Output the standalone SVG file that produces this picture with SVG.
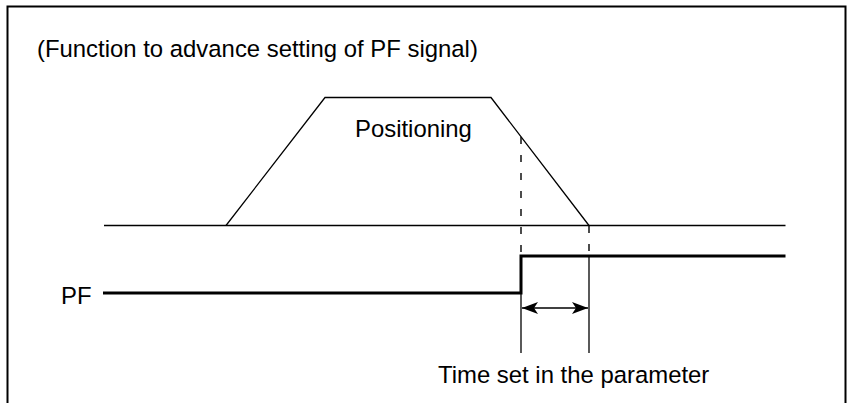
<svg xmlns="http://www.w3.org/2000/svg" width="848" height="403" viewBox="0 0 848 403">
<defs>
<style>
text{font-family:"Liberation Sans",Arial,sans-serif;font-size:23.9px;fill:#000}
.thin{stroke:#000;stroke-width:1.3;fill:none}
.thick{stroke:#000;stroke-width:3;fill:none}
.dash{stroke:#000;stroke-width:1.4;fill:none;stroke-dasharray:7 11}
</style>
<marker id="ah" viewBox="0 0 16 12" refX="16" refY="6" markerWidth="16" markerHeight="12" markerUnits="userSpaceOnUse" orient="auto-start-reverse">
<path d="M0,0 L16,6 L0,12 L4,6 Z" fill="#000"/>
</marker>
</defs>
<rect width="848" height="403" fill="#fff"/>
<path id="frame" d="M7.5,403 V6.5 H845.5 V403" fill="none" stroke="#000" stroke-width="2"/>
<g id="title"><text x="37" y="57">(Function to advance setting of PF signal)</text></g>
<g id="positioning">
<path class="thin" d="M104,225.5 H785.5"/>
<path class="thin" d="M226,225.5 L325,97.5 H491 L589,225.5"/>
<text x="355" y="137">Positioning</text>
</g>
<g id="pf">
<text x="61" y="304">PF</text>
<path class="thick" d="M103,293 H521 V256 H785.5"/>
</g>
<g id="connectors">
<path class="dash" d="M521,137 V256"/>
<path class="dash" d="M589,226 V256"/>
<path class="thin" d="M521,293 V353"/>
<path class="thin" d="M589,256 V353"/>
<path class="thin" d="M522,308 H588" marker-start="url(#ah)" marker-end="url(#ah)"/>
</g>
<g id="time"><text x="438" y="383">Time set in the parameter</text></g>
</svg>
